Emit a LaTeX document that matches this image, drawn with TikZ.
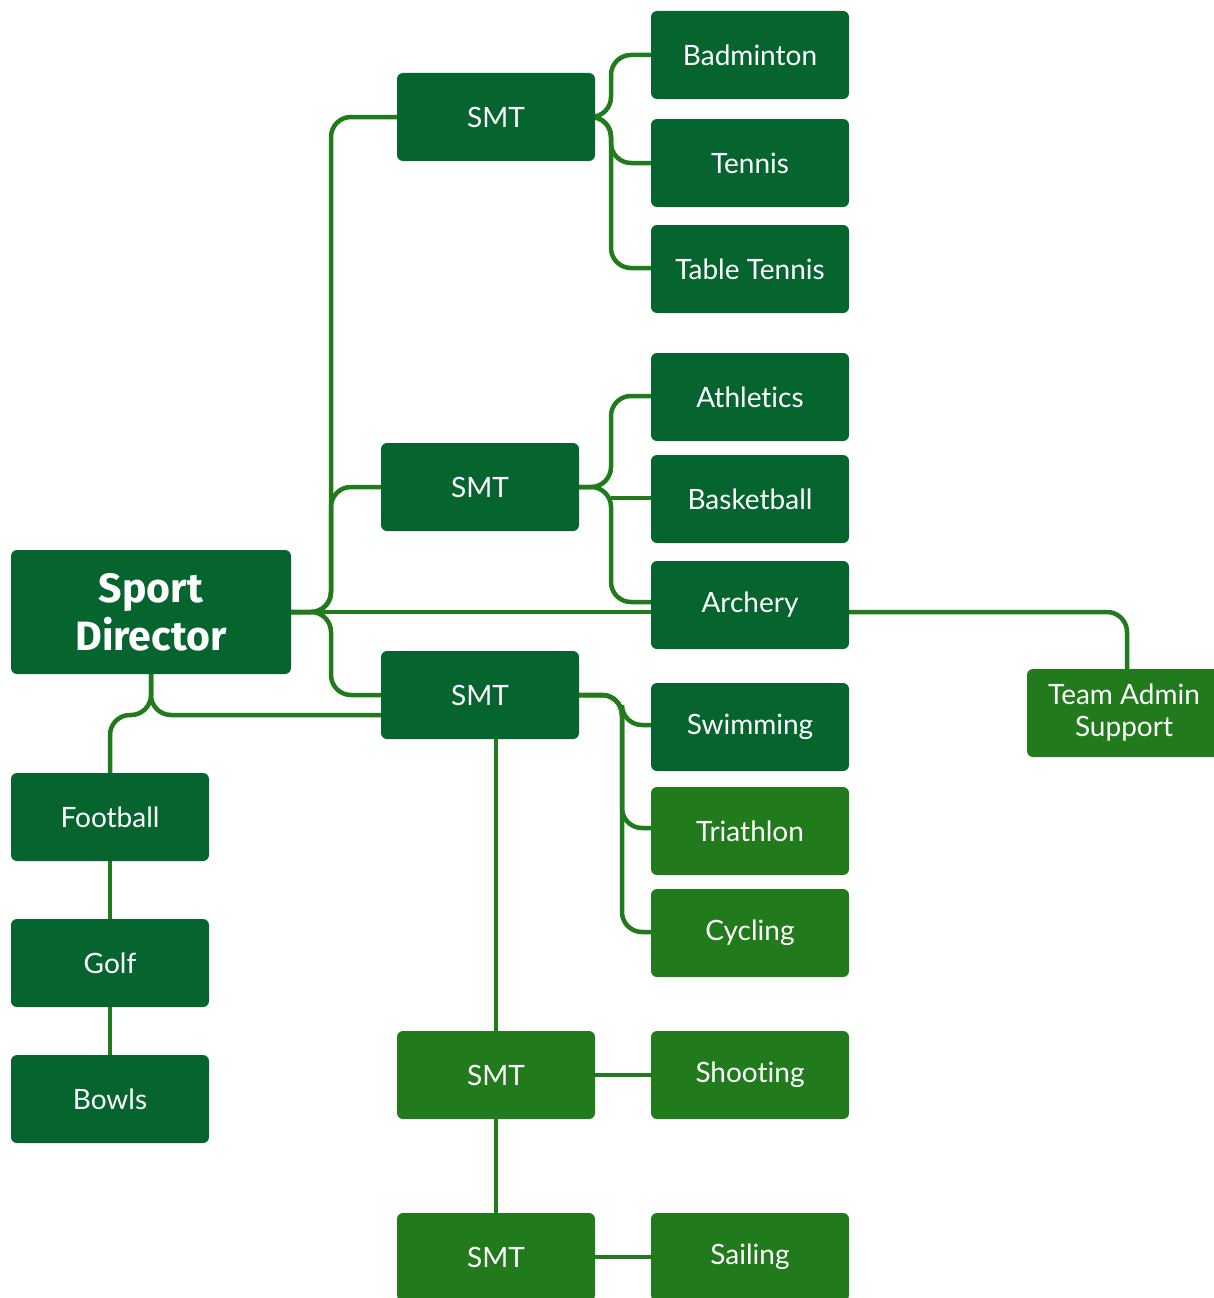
\documentclass[tikz,border=0pt]{standalone}
\usepackage{fontspec}
\setmainfont[Ligatures={NoCommon,NoRare}]{Lato}
\newfontfamily\sdfont{Fira Sans}
\definecolor{dkg}{RGB}{6,101,46}
\definecolor{ltg}{RGB}{33,122,27}
\pgfdeclarelayer{bg}
\pgfsetlayers{bg,main}
\begin{document}
\begin{tikzpicture}[x=1pt,y=-1pt,
  box/.style={rectangle,rounded corners=6pt,minimum width=198pt,minimum height=88pt,inner sep=0pt,text=white,font=\fontsize{28}{32}\selectfont,align=center},
  dbox/.style={box,fill=dkg},
  lbox/.style={box,fill=ltg},
  conn/.style={draw=ltg,line width=4.5pt,rounded corners=20pt},
  sconn/.style={draw=ltg,line width=4.5pt}]
\useasboundingbox (0,0) rectangle (1214,1298);
\node[dbox,minimum width=280pt,minimum height=124pt,font=\sdfont\bfseries\fontsize{41}{48}\selectfont] (sd) at (151,612) {Sport\\Director};
\node[dbox] (smt1) at (496,117) {SMT};
\node[dbox] (smt2) at (480,487) {SMT};
\node[dbox] (smt3) at (480,695) {SMT};
\node[lbox] (smt4) at (496,1075) {SMT};
\node[lbox] (smt5) at (496,1257) {SMT};
\node[dbox] (bad) at (750,55) {Badminton};
\node[dbox] (ten) at (750,163) {Tennis};
\node[dbox] (tt) at (750,269) {Table Tennis};
\node[dbox] (ath) at (750,397) {Athletics};
\node[dbox] (bas) at (750,499) {Basketball};
\node[dbox] (arc) at (750,605) {Archery};
\node[dbox] (swi) at (750,727) {Swimming};
\node[lbox] (tri) at (750,831) {Triathlon};
\node[lbox] (cyc) at (750,933) {Cycling};
\node[lbox] (sho) at (750,1075) {Shoot\kern0pt ing};
\node[lbox] (sai) at (750,1257) {Sailing};
\node[lbox,minimum width=194pt,font=\fontsize{28}{32}\selectfont] (tas) at (1124,713) {Team Admin\\Support};
\node[dbox] (foo) at (110,817) {Football};
\node[dbox] (gol) at (110,963) {Golf};
\node[dbox] (bow) at (110,1099) {Bowls};
\coordinate (sdr) at (291,612);
\coordinate (sdb) at (151,674);
\begin{pgfonlayer}{bg}
\path[conn] (sdr) -- (331,612) -- (331,117) -- (smt1.west);
\path[conn] (sdr) -- (331,612) -- (331,487) -- (smt2.west);
\path[conn] (sdr) -- (331,612) -- (331,695) -- (smt3.west);
\path[conn] (sdr) -- (651,612);
\path[conn] (849,612) -- (1127,612) -- (1127,669);
\path[conn] (sdb) -- (151,715) -- (110,715) -- (foo.north);
\path[conn] (sdb) -- (151,715) -- (381,715);
\path[conn] (foo) -- (gol);
\path[conn] (gol) -- (bow);
\path[conn] (smt1.east) -- (611,117) -- (611,55) -- (bad.west);
\path[conn] (smt1.east) -- (611,117) -- (611,163) -- (ten.west);
\path[conn] (smt1.east) -- (611,117) -- (611,268) -- (651,268);
\path[conn] (smt2.east) -- (611,487) -- (611,396) -- (651,396);
\path[sconn] (611,498) -- (651,498);
\path[conn] (smt2.east) -- (611,487) -- (611,602) -- (651,602);
\path[conn] (smt3.east) -- (622,695) -- (622,725) -- (651,725);
\path[conn] (smt3.east) -- (622,695) -- (622,828) -- (651,828);
\path[conn] (smt3.east) -- (622,695) -- (622,932) -- (651,932);
\path[conn] (smt3.south -| 496,0) -- (smt4.north);
\path[conn] (smt4) -- (smt5);
\path[conn] (smt4) -- (sho);
\path[conn] (smt5) -- (sai);
\end{pgfonlayer}
\end{tikzpicture}
\end{document}
